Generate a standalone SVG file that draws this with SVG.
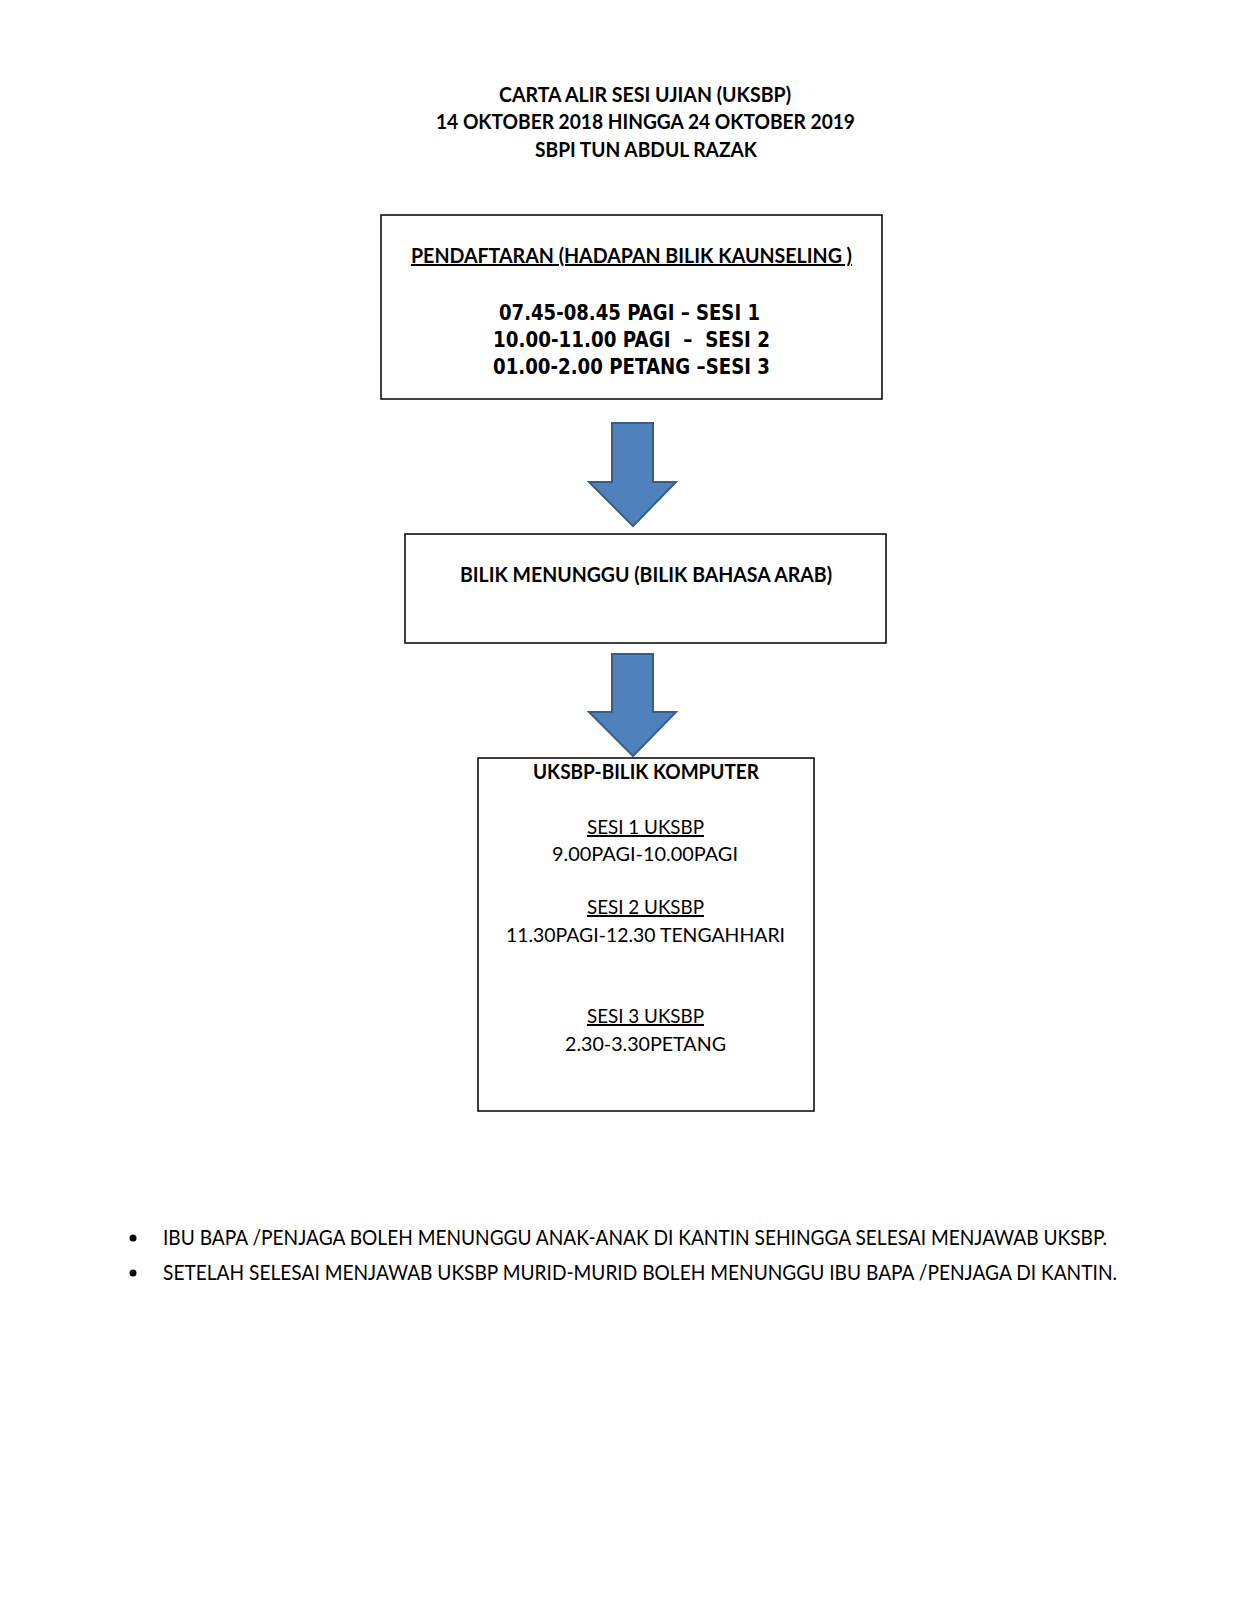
<svg xmlns="http://www.w3.org/2000/svg" width="1237" height="1600" viewBox="0 0 1237 1600">
<style>
.t{font-family:Lato,"Liberation Sans",sans-serif;fill:#000}
.b{font-weight:bold}
.g{font-family:"DejaVu Sans","Liberation Sans",sans-serif;font-weight:bold;fill:#000}
.u{text-decoration:underline}
.box{fill:#fff;stroke:#000;stroke-width:1.5}
.arr{fill:#4F81BD;stroke:#385D8A;stroke-width:2;stroke-linejoin:miter}
</style>
<rect width="1237" height="1600" fill="#fff"/>
<g id="title">
<text class="t b" x="499" y="102" font-size="20" textLength="292" lengthAdjust="spacingAndGlyphs">CARTA ALIR SESI UJIAN (UKSBP)</text>
<text class="t b" x="436" y="129" font-size="20" textLength="419" lengthAdjust="spacingAndGlyphs">14 OKTOBER 2018 HINGGA 24 OKTOBER 2019</text>
<text class="t b" x="535" y="157" font-size="20" textLength="222" lengthAdjust="spacingAndGlyphs">SBPI TUN ABDUL RAZAK</text>
</g>
<g id="node-pendaftaran">
<rect class="box" x="381" y="215" width="501" height="184"/>
<text class="t b u" x="411" y="263" font-size="20" textLength="441" lengthAdjust="spacingAndGlyphs">PENDAFTARAN (HADAPAN BILIK KAUNSELING  )</text>
<text class="g" x="499" y="320" font-size="22" textLength="261" lengthAdjust="spacingAndGlyphs">07.45-08.45 PAGI – SESI 1</text>
<text class="g" x="493" y="347" font-size="22" textLength="277" lengthAdjust="spacingAndGlyphs" xml:space="preserve">10.00-11.00 PAGI  –  SESI 2</text>
<text class="g" x="493" y="374" font-size="22" textLength="277" lengthAdjust="spacingAndGlyphs">01.00-2.00 PETANG –SESI 3</text>
</g>
<g id="node-menunggu">
<rect class="box" x="405" y="534" width="481" height="109"/>
<text class="t b" x="460" y="582" font-size="20" textLength="372" lengthAdjust="spacingAndGlyphs">BILIK MENUNGGU (BILIK BAHASA ARAB)</text>
</g>
<g id="node-komputer">
<rect class="box" x="478" y="758" width="336" height="353"/>
<text class="t b" x="533" y="779" font-size="20" textLength="226" lengthAdjust="spacingAndGlyphs">UKSBP-BILIK KOMPUTER</text>
<text class="t u" x="587" y="834" font-size="20" textLength="117" lengthAdjust="spacingAndGlyphs">SESI 1 UKSBP</text>
<text class="t" x="552" y="861" font-size="20" textLength="186" lengthAdjust="spacingAndGlyphs">9.00PAGI-10.00PAGI</text>
<text class="t u" x="587" y="914" font-size="20" textLength="117" lengthAdjust="spacingAndGlyphs">SESI 2 UKSBP</text>
<text class="t" x="506" y="942" font-size="20" textLength="279" lengthAdjust="spacingAndGlyphs">11.30PAGI-12.30 TENGAHHARI</text>
<text class="t u" x="587" y="1023" font-size="20" textLength="117" lengthAdjust="spacingAndGlyphs">SESI 3 UKSBP</text>
<text class="t" x="565" y="1051" font-size="20" textLength="161" lengthAdjust="spacingAndGlyphs">2.30-3.30PETANG</text>
</g>
<g id="connectors">
<path class="arr" d="M612,423 H653 V482 H676 L633,526 L589,482 H612 Z"/>
<path class="arr" d="M612,654 H653 V712 H676 L633,756 L589,712 H612 Z"/>
</g>
<g id="notes">
<circle cx="133" cy="1238" r="3.5" fill="#000"/>
<text class="t" x="163" y="1245" font-size="21" textLength="944" lengthAdjust="spacingAndGlyphs">IBU BAPA /PENJAGA BOLEH MENUNGGU ANAK-ANAK DI KANTIN SEHINGGA SELESAI MENJAWAB UKSBP.</text>
<circle cx="133" cy="1273" r="3.5" fill="#000"/>
<text class="t" x="163" y="1280" font-size="21" textLength="954" lengthAdjust="spacingAndGlyphs">SETELAH SELESAI MENJAWAB UKSBP MURID-MURID BOLEH MENUNGGU IBU BAPA /PENJAGA DI KANTIN.</text>
</g>
</svg>
